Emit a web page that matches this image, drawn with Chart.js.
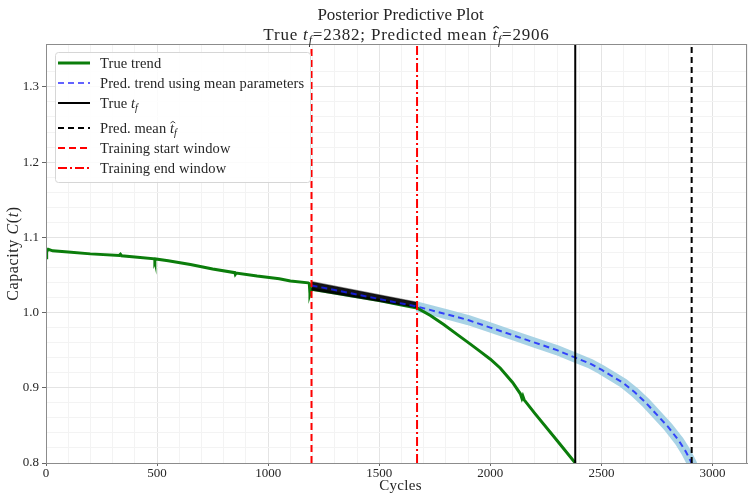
<!DOCTYPE html>
<html>
<head>
<meta charset="utf-8">
<script src="https://cdn.jsdelivr.net/npm/chart.js@4/dist/chart.umd.min.js"></script>
<style>
  html, body { margin: 0; background: #fff; }
</style>
</head>
<body>
<canvas id="myChart" width="748" height="496"></canvas>
<script>
//Datos

// true trend (cycles / capacity)
const trueX = [0, 3, 10, 30, 100, 200, 330, 335, 340, 400, 488, 490, 493, 550, 650, 750, 850, 852, 856, 950,
  1050, 1100, 1180, 1185, 1188, 1192, 1197, 1300, 1400, 1500, 1600, 1670, 1730, 1790, 1850, 1910, 1955,
  2000, 2045, 2100, 2135, 2142, 2146, 2152, 2200, 2300, 2382];
const trueY = [1.073, 1.081, 1.084, 1.082, 1.0805, 1.078, 1.076, 1.0775, 1.0755, 1.074, 1.0715, 1.0688, 1.0712, 1.069, 1.064, 1.058, 1.053, 1.0508, 1.0525, 1.0485,
  1.045, 1.042, 1.0395, 1.0385, 1.025, 1.029, 1.031, 1.026, 1.021, 1.016, 1.010, 1.006, 0.996, 0.984, 0.971, 0.958, 0.948,
  0.938, 0.926, 0.907, 0.892, 0.886, 0.889, 0.884, 0.866, 0.830, 0.800];

// prediction with mean parameters
const predX = [1195, 1300, 1400, 1500, 1600, 1670, 1800, 1900, 2000, 2100, 2200, 2300, 2382, 2450,
  2500, 2550, 2600, 2650, 2700, 2750, 2800, 2850, 2880, 2906, 2925];
const predY = [1.036, 1.030, 1.024, 1.018, 1.012, 1.008, 0.998, 0.990, 0.980, 0.970, 0.960, 0.950, 0.940, 0.932,
  0.924, 0.915, 0.906, 0.894, 0.880, 0.864, 0.848, 0.829, 0.815, 0.800, 0.787];

// samples band inside the training window
const bandX = [1195, 1670];
const bandHi = [1.041, 1.0137];
const bandLo = [1.030, 1.0065];

// vertical markers
const trainStart = 1195;
const trainEnd = 1670;
const trueTf = 2382;
const predTf = 2906;

// axes
const xMin = 0, xMax = 3155;
const yMin = 0.8, yMax = 1.357;
const xMajor = 500, xMinor = 100;
const yMajor = 0.1, yMinor = 0.02;

const titulo1 = [{t: 'Posterior Predictive Plot'}];
const titulo2 = [{t: 'True '}, {t: 't', it: true}, {t: 'f', it: true, sub: true}, {t: '=2382; Predicted mean '},
  {t: 't', it: true, hat: true}, {t: 'f', it: true, sub: true}, {t: '=2906'}];
const ejeY = [{t: 'Capacity '}, {t: 'C', it: true}, {t: '('}, {t: 't', it: true}, {t: ')'}];
const ejeX = [{t: 'Cycles'}];
const etiquetas = [
  [{t: 'True trend'}],
  [{t: 'Pred. trend using mean parameters'}],
  [{t: 'True '}, {t: 't', it: true}, {t: 'f', it: true, sub: true}],
  [{t: 'Pred. mean '}, {t: 't', it: true, hat: true}, {t: 'f', it: true, sub: true}],
  [{t: 'Training start window'}],
  [{t: 'Training end window'}]
];

//Funciones

const FAMILIA = '"Liberation Serif", "DejaVu Serif", serif';
const TINTA = '#262626';

function puntos(xs, ys) {
  return xs.map((x, i) => ({x: x, y: ys[i]}));
}

// closed outline: upper edge forward, lower edge back
function contorno(xs, hi, lo) {
  return puntos(xs, hi).concat(puntos(xs, lo).reverse());
}

function vertical(x) {
  return [{x: x, y: yMin}, {x: x, y: yMax}];
}

function fuente(size, it) {
  return (it ? 'italic ' : '') + size + 'px ' + FAMILIA;
}

function anchoRico(ctx, segs, size) {
  let w = 0;
  for (const s of segs) {
    ctx.font = fuente(s.sub ? size * 0.7 : size, s.it);
    w += ctx.measureText(s.t).width;
  }
  return w;
}

function textoRico(ctx, segs, x, y, size, centrado, espacio) {
  ctx.letterSpacing = (espacio || 0) + 'px';
  let cx = centrado ? x - anchoRico(ctx, segs, size) / 2 : x;
  ctx.textAlign = 'left';
  ctx.textBaseline = 'alphabetic';
  ctx.fillStyle = TINTA;
  ctx.strokeStyle = TINTA;
  for (const s of segs) {
    const sz = s.sub ? size * 0.7 : size;
    ctx.font = fuente(sz, s.it);
    const w = ctx.measureText(s.t).width;
    ctx.fillText(s.t, cx, y + (s.sub ? size * 0.22 : 0));
    if (s.hat) {
      const hx = cx + w / 2 + size * 0.06;
      const hy = y - size * 0.8;
      ctx.beginPath();
      ctx.lineWidth = size * 0.06;
      ctx.setLineDash([]);
      ctx.moveTo(hx - size * 0.16, hy + size * 0.11);
      ctx.lineTo(hx, hy);
      ctx.lineTo(hx + size * 0.16, hy + size * 0.11);
      ctx.stroke();
    }
    cx += w;
  }
  ctx.letterSpacing = '0px';
}

function esMayor(v, paso) {
  const r = v / paso;
  return Math.abs(r - Math.round(r)) < 1e-6;
}

// fills the closed line path of datasets marked with "relleno"
const rellenar = {
  id: 'rellenar',
  beforeDatasetDraw(chart, args) {
    const ds = chart.data.datasets[args.index];
    if (!ds.relleno) return;
    const ctx = chart.ctx;
    const a = chart.chartArea;
    ctx.save();
    ctx.beginPath();
    ctx.rect(a.left, a.top, a.right - a.left, a.bottom - a.top);
    ctx.clip();
    ctx.beginPath();
    args.meta.dataset.path(ctx);
    ctx.closePath();
    ctx.fillStyle = ds.relleno;
    ctx.fill();
    ctx.restore();
  }
};

// frame, titles, axis labels and the legend box inside the plot
const textos = {
  id: 'textos',
  afterDraw(chart) {
    const ctx = chart.ctx;
    const a = chart.chartArea;
    ctx.save();

    ctx.strokeStyle = '#8c8c8c';
    ctx.lineWidth = 1;
    ctx.setLineDash([]);
    ctx.strokeRect(Math.round(a.left) + 0.5, Math.round(a.top) + 0.5, Math.round(a.right - a.left) - 1, Math.round(a.bottom - a.top));

    const centro = (a.left + a.right) / 2;
    textoRico(ctx, titulo1, centro + 4, 20, 17, true, 0);
    textoRico(ctx, titulo2, centro + 10, 40, 17, true, 0.8);
    textoRico(ctx, ejeX, centro + 4, 490, 15, true, 0.3);

    ctx.save();
    ctx.translate(18, (a.top + a.bottom) / 2);
    ctx.rotate(-Math.PI / 2);
    textoRico(ctx, ejeY, 0, 0, 16, true, 0.6);
    ctx.restore();

    // legend
    const bx = 55.5, by = 52.5, bw = 255, bh = 130;
    ctx.beginPath();
    ctx.roundRect(bx, by, bw, bh, 3);
    ctx.fillStyle = 'rgba(255,255,255,0.85)';
    ctx.fill();
    ctx.strokeStyle = '#d6d6d6';
    ctx.lineWidth = 1;
    ctx.stroke();

    let fy = 63;
    const items = chart.data.datasets.filter(d => d.fila !== undefined).sort((p, q) => p.fila - q.fila);
    items.forEach(d => {
      const segs = etiquetas[d.fila];
      if (segs.some(s => s.hat)) fy += 5;
      ctx.beginPath();
      ctx.strokeStyle = d.colorLeyenda || d.borderColor;
      ctx.lineWidth = d.borderWidth;
      ctx.setLineDash(d.borderDash || []);
      ctx.moveTo(58, fy);
      ctx.lineTo(90, fy);
      ctx.stroke();
      ctx.setLineDash([]);
      textoRico(ctx, segs, 100, fy + 5, 14.5, false, 0.1);
      fy += 20;
    });
    ctx.restore();
  }
};

function grafico() {
  const datasets = [
    {label: 'True trend', data: puntos(trueX, trueY), borderColor: '#0b7d0b', borderWidth: 3, order: 3, fila: 0},
    {label: 'Pred. trend using mean parameters', data: puntos(predX, predY), borderColor: 'rgba(20,30,255,0.8)',
      colorLeyenda: 'rgba(60,60,255,0.8)', borderWidth: 2, borderDash: [6, 4], order: 1, fila: 1},
    {label: 'True t_f', data: vertical(trueTf), borderColor: '#000', borderWidth: 2, order: 0, fila: 2},
    {label: 'Pred. mean t_f', data: vertical(predTf), borderColor: '#000', borderWidth: 2, borderDash: [6, 4], order: 0, fila: 3},
    {label: 'Training start window', data: vertical(trainStart), borderColor: '#ff0000', borderWidth: 2, borderDash: [7, 4], order: 0, fila: 4},
    {label: 'Training end window', data: vertical(trainEnd), borderColor: '#ff0000', borderWidth: 2, borderDash: [9, 3, 2, 3], order: 0, fila: 5},
    {label: 'samples in window', data: contorno(bandX, bandHi, bandLo), borderColor: 'rgba(0,0,0,0.45)', borderWidth: 1.5,
      relleno: 'rgba(0,0,0,0.92)', order: 2},
    {label: 'samples', data: puntos(predX.slice(5), predY.slice(5)), borderColor: 'rgba(160,206,226,0.9)', borderWidth: 10, order: 4}
  ];
  datasets.forEach(d => {
    d.pointRadius = 0;
    d.tension = 0;
    d.clip = 0;
    d.fill = false;
  });

  window.myChart = new Chart(document.getElementById('myChart'), {
    type: 'line',
    data: {datasets: datasets},
    options: {
      responsive: false,
      animation: false,
      layout: {padding: {top: 44, left: 0, right: 1, bottom: 0}},
      plugins: {legend: {display: false}, title: {display: false}, tooltip: {enabled: false}},
      scales: {
        x: {
          type: 'linear', min: xMin, max: xMax,
          afterFit: s => { s.height = 33; },
          ticks: {
            stepSize: xMinor, autoSkip: false, maxRotation: 0, padding: 0,
            color: TINTA, font: {family: FAMILIA, size: 13},
            callback: v => esMayor(v, xMajor) ? String(v) : ''
          },
          grid: {
            color: c => c.tick && esMayor(c.tick.value, xMajor) ? '#e4e4e4' : '#f3f3f3',
            tickColor: c => c.tick && esMayor(c.tick.value, xMajor) ? '#666' : 'rgba(0,0,0,0)',
            tickLength: 3
          },
          border: {color: '#8c8c8c'}
        },
        y: {
          type: 'linear', min: yMin, max: yMax,
          afterFit: s => { s.width = 46; },
          ticks: {
            stepSize: yMinor, autoSkip: false, padding: 3,
            color: TINTA, font: {family: FAMILIA, size: 13},
            callback: v => esMayor(v, yMajor) ? v.toFixed(1) : ''
          },
          grid: {
            color: c => c.tick && esMayor(c.tick.value, yMajor) ? '#e4e4e4' : '#f3f3f3',
            tickColor: c => c.tick && esMayor(c.tick.value, yMajor) ? '#666' : 'rgba(0,0,0,0)',
            tickLength: 4
          },
          border: {color: '#8c8c8c'}
        }
      }
    },
    plugins: [rellenar, textos]
  });
}

grafico();
</script>
</body>
</html>
